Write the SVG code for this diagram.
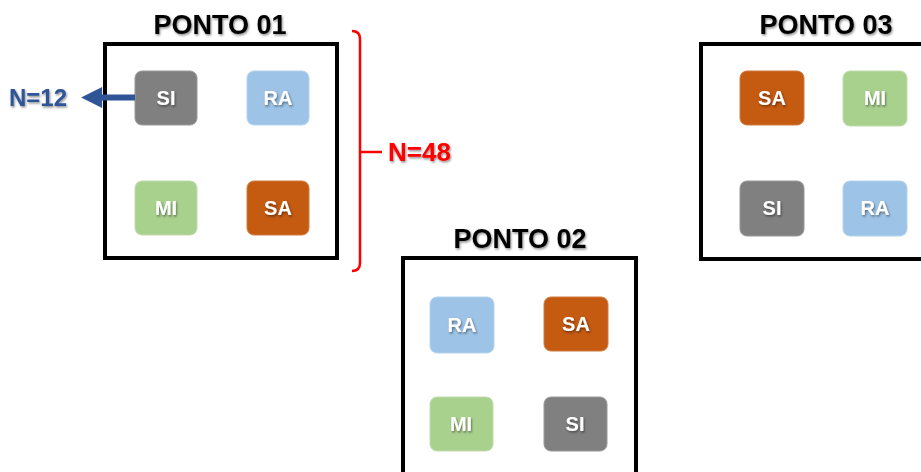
<svg xmlns="http://www.w3.org/2000/svg" width="921" height="472" viewBox="0 0 921 472">
<defs>
<filter id="sh" x="-20%" y="-20%" width="140%" height="150%">
<feDropShadow dx="1" dy="1.5" stdDeviation="0.8" flood-color="#000" flood-opacity="0.45"/>
</filter>
<marker id="ah" viewBox="0 0 10 10" refX="1" refY="5" markerWidth="3.8" markerHeight="3.5" orient="auto-start-reverse" markerUnits="strokeWidth">
<path d="M0,0 L10,5 L0,10 Z" fill="#2F5597"/>
</marker>
<style>
.box{fill:#fff;stroke:#000;stroke-width:4}
.title{font-family:"Liberation Sans",Arial,sans-serif;font-weight:bold;font-size:27px;fill:#000;text-anchor:middle}
.tile{stroke-width:1}
.si{fill:#808080;stroke:#999}
.ra{fill:#9DC3E6;stroke:#b5d3ee}
.mi{fill:#A9D18E;stroke:#c0ddac}
.sa{fill:#C55A11;stroke:#d27a40}
.lbl{font-family:"Liberation Sans",Arial,sans-serif;font-weight:bold;font-size:20px;fill:#fff;text-anchor:middle}
</style>
</defs>

<g id="ponto01">
<rect class="box" x="105" y="44" width="232" height="214"/>
<text class="title" x="220" y="34" filter="url(#sh)">PONTO 01</text>
<g id="p1-si"><rect class="tile si" x="135" y="71" width="62" height="54" rx="7"/><text class="lbl" x="166" y="105" filter="url(#sh)">SI</text></g>
<g id="p1-ra"><rect class="tile ra" x="247" y="71" width="62" height="54" rx="7"/><text class="lbl" x="278" y="105" filter="url(#sh)">RA</text></g>
<g id="p1-mi"><rect class="tile mi" x="135" y="181" width="62" height="54" rx="7"/><text class="lbl" x="166" y="215" filter="url(#sh)">MI</text></g>
<g id="p1-sa"><rect class="tile sa" x="247" y="181" width="62" height="54" rx="7"/><text class="lbl" x="278" y="215" filter="url(#sh)">SA</text></g>
</g>

<g id="ponto02">
<rect class="box" x="403" y="258" width="233" height="240"/>
<text class="title" x="520" y="248" filter="url(#sh)">PONTO 02</text>
<g id="p2-ra"><rect class="tile ra" x="430" y="297" width="64" height="56" rx="7"/><text class="lbl" x="462" y="332" filter="url(#sh)">RA</text></g>
<g id="p2-sa"><rect class="tile sa" x="544" y="297" width="64" height="54" rx="7"/><text class="lbl" x="576" y="331" filter="url(#sh)">SA</text></g>
<g id="p2-mi"><rect class="tile mi" x="430" y="397" width="63" height="54" rx="7"/><text class="lbl" x="461" y="431" filter="url(#sh)">MI</text></g>
<g id="p2-si"><rect class="tile si" x="544" y="397" width="63" height="54" rx="7"/><text class="lbl" x="575" y="431" filter="url(#sh)">SI</text></g>
</g>

<g id="ponto03">
<rect class="box" x="701" y="44" width="250" height="215"/>
<text class="title" x="826" y="34" filter="url(#sh)">PONTO 03</text>
<g id="p3-sa"><rect class="tile sa" x="740" y="71" width="64" height="54" rx="7"/><text class="lbl" x="772" y="105" filter="url(#sh)">SA</text></g>
<g id="p3-mi"><rect class="tile mi" x="843" y="71" width="64" height="55" rx="7"/><text class="lbl" x="875" y="105" filter="url(#sh)">MI</text></g>
<g id="p3-si"><rect class="tile si" x="740" y="181" width="64" height="55" rx="7"/><text class="lbl" x="772" y="215" filter="url(#sh)">SI</text></g>
<g id="p3-ra"><rect class="tile ra" x="843" y="181" width="64" height="55" rx="7"/><text class="lbl" x="875" y="215" filter="url(#sh)">RA</text></g>
</g>

<g id="connectors">
<line x1="135" y1="97.5" x2="100" y2="97.5" stroke="#2F5597" stroke-width="6" marker-end="url(#ah)"/>
<path d="M352,31 Q360,31 360,39 L360,263 Q360,271 352,271 M360,152 L382,152" fill="none" stroke="#FF0000" stroke-width="2.5"/>
</g>

<g id="labels">
<text x="9" y="106" font-family="Liberation Sans, Arial, sans-serif" font-weight="bold" font-size="24" fill="#2F5597" filter="url(#sh)">N=12</text>
<text x="388" y="161" font-family="Liberation Sans, Arial, sans-serif" font-weight="bold" font-size="26" fill="#FF0000" filter="url(#sh)">N=48</text>
</g>
</svg>
